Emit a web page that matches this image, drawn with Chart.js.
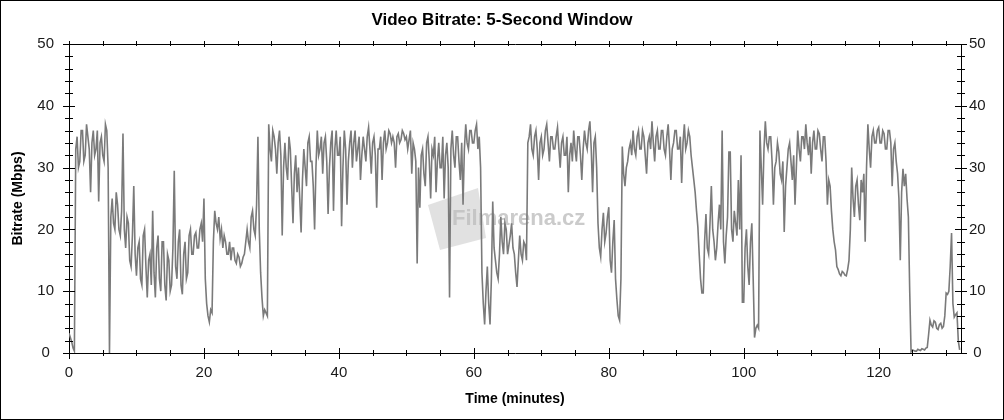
<!DOCTYPE html>
<html>
<head>
<meta charset="utf-8">
<title>Video Bitrate</title>
<script src="https://cdn.jsdelivr.net/npm/chart.js@4.4.0/dist/chart.umd.min.js"></script>
<style>
  html, body { margin: 0; padding: 0; background: #fff; }
  #wrap { width: 1004px; height: 420px; }
</style>
</head>
<body>
<div id="wrap"><canvas id="bitrateChart" width="1004" height="420"></canvas></div>
<script>
// labels
const chartTitle = "Video Bitrate: 5-Second Window";
const xTitle = "Time (minutes)";
const yTitle = "Bitrate (Mbps)";

// axis ranges / tick steps
const xMax = 132.2;
const yMax = 50;
const xLabelStep = 20;
const xMinorStep = 5;
const yLabelStep = 10;
const yMinorStep = 2;

// one sample every 0.2 minutes (Mbps), 2 minutes per row
const stepMinutes = 0.2;
const bitrate = [
  3.2, 2.5, 1.8, 0.8, 0.3, 33, 35, 30, 31, 36,
  36, 31, 32, 37, 35, 33, 26, 34, 36, 32,
  33, 36, 24.5, 34, 35, 32, 31, 37, 36, 30,
  0, 22, 25, 21, 20, 26, 24, 20, 19, 23,
  35.5, 20, 17, 22, 21, 15, 14, 19, 27, 16,
  12.5, 17, 18, 12, 11, 19, 20, 14, 9, 15,
  16, 11, 23, 13, 9, 17, 19, 12, 10, 18,
  18, 11, 8.5, 16, 15, 10, 11, 17, 29.5, 14,
  12, 18, 20, 11, 9.5, 16, 18, 12, 13, 19,
  20, 16, 16, 19, 19.5, 17, 17, 20, 21, 18,
  25, 12, 8, 6, 5, 7, 6.5, 18, 23, 21,
  20, 22, 18.5, 20, 17, 19, 18, 16, 16, 18,
  15, 17, 17, 15, 14.5, 16, 15.5, 14, 14.5, 15.5,
  16, 18, 20, 18, 17, 22, 23, 20, 19, 24,
  35, 20, 13, 9, 6, 7, 6.5, 6, 37, 33,
  31, 36, 35, 33, 29, 34, 36, 32, 19, 30,
  34, 30, 28, 35, 33, 27, 21, 29, 32, 26,
  30, 25, 19.5, 28, 33, 30, 27, 34, 35, 31,
  31, 27, 20, 30, 36, 32, 33, 35, 29, 34,
  35, 31, 22.5, 30, 34, 36, 23, 33, 36, 32,
  32, 35, 20.5, 30, 36, 33, 24, 31, 34, 36,
  30, 34, 36, 31, 33, 35, 28, 32, 35, 33,
  31, 35, 36.5, 33, 29, 34, 35, 32, 23.5, 33,
  33, 35, 28, 34, 36, 33, 34, 36, 35.5, 34,
  35, 34, 30, 35, 35.5, 34, 34.5, 36, 35.5, 34.5,
  35, 33, 34.5, 36, 29, 34, 33, 31, 14.5, 30,
  23.5, 32, 33, 29, 27, 34, 35, 31, 25, 33,
  32, 35, 26, 31, 34, 30, 30, 35, 25, 32,
  34, 30, 9, 33, 36, 32, 30, 35, 35, 31,
  28, 34, 24, 33, 37, 34, 33, 36, 36, 34,
  34, 36, 37, 33, 35, 30, 13, 8, 4.6, 10,
  14, 8, 4.6, 12, 24.5, 17, 15, 13, 12, 16,
  22, 18, 16, 21, 20, 16, 17.5, 19, 21, 17,
  16, 13, 10.7, 15, 19, 16, 15, 18, 17.5, 15,
  34, 35, 37, 33, 32, 35, 36, 33, 28, 34,
  35, 32, 33, 36, 37, 34, 31, 35, 35, 33,
  33, 35, 36.5, 33, 30, 34, 35, 32, 32, 35,
  26, 32, 34, 31, 36, 33, 31, 35, 35, 32,
  28, 33, 36, 34, 33, 36, 37.5, 33, 26, 34,
  35, 30, 21, 17, 15.6, 20, 22.7, 18, 19.4, 22,
  23.6, 15, 13, 18, 21.5, 12, 8.7, 6, 5.3, 12,
  33.4, 29, 27, 30, 31, 33, 34, 32, 36, 33,
  32, 35, 36, 33, 33, 36, 35, 32, 29, 34,
  35, 33, 37.5, 34, 31, 35, 36, 33, 33, 36,
  36, 33, 32, 35, 37, 33, 28, 33, 34, 36,
  36, 33, 33, 35, 27.5, 34, 37, 33, 34, 36,
  35, 32, 30, 28, 26, 23, 20.4, 16, 12, 9.7,
  9.7, 18, 22.5, 17, 16, 21, 27, 20, 18, 15,
  17, 21, 24, 20, 36, 18, 14.5, 19, 22, 32.5,
  32.5, 20, 18, 23, 21, 19, 28, 20, 32, 8.2,
  8.2, 17, 20, 14, 11, 18, 21, 12, 2.5, 4,
  4.5, 4, 36, 30, 24, 33, 37.5, 34, 33, 35,
  35, 31, 24, 30, 31, 34, 32.5, 29, 28, 31,
  19.6, 27, 30, 33, 34, 31, 28, 32, 24, 30,
  36, 33, 31, 35, 35, 33, 37, 34, 32, 35,
  29, 34, 36, 33, 33, 36, 35.5, 33, 31, 35,
  35, 31, 24, 28, 27, 23, 20, 18, 16.7, 14,
  13.5, 12.8, 12.5, 13.2, 13, 12.6, 12.5, 13.5, 15, 20,
  30, 25, 22, 27, 28, 24, 21.5, 28, 26, 29,
  18, 30, 37, 33, 30, 35, 36, 34, 34, 36,
  36.5, 34, 34, 36, 35.5, 33, 33, 36, 36, 34,
  27, 33, 34, 31, 29, 25, 15, 26, 29.8, 27,
  29, 25, 22, 10, 0.2, 0.5, 0.4, 0.3, 0.3, 0.6,
  0.5, 0.4, 0.7, 0.6, 0.5, 0.8, 0.9, 3, 5.3, 4.5,
  4.2, 5.2, 5, 4, 3.8, 4.6, 4.8, 4, 4.3, 6,
  9.7, 9.5, 10, 14, 19.4, 8, 5.8, 6.2, 6.5, 2,
  0.5
];

const points = bitrate.map((v, i) => ({ x: +(i * stepMinutes).toFixed(1), y: v }));

Chart.defaults.font.family = '"Liberation Sans", Arial, sans-serif';

// white background, faint watermark, tick marks on all four sides and outer frame
const framePlugin = {
  id: 'frame',
  beforeDraw(chart) {
    const ctx = chart.ctx;
    ctx.save();
    ctx.fillStyle = '#fff';
    ctx.fillRect(0, 0, chart.width, chart.height);
    ctx.restore();
  },
  beforeDatasetsDraw(chart) {
    const ctx = chart.ctx;
    ctx.save();
    ctx.fillStyle = 'rgba(200,200,200,0.55)';
    ctx.beginPath();
    ctx.moveTo(428, 205); ctx.lineTo(478, 188); ctx.lineTo(486, 238); ctx.lineTo(440, 250);
    ctx.closePath();
    ctx.fill();
    ctx.font = 'bold 22px "Liberation Sans", Arial, sans-serif';
    ctx.fillStyle = 'rgba(190,190,190,0.8)';
    ctx.textBaseline = 'middle';
    ctx.fillText('Filmarena.cz', 452, 219);
    ctx.restore();
  },
  afterDraw(chart) {
    const ctx = chart.ctx;
    const { left, right, top, bottom } = chart.chartArea;
    const xs = chart.scales.x, ys = chart.scales.y;
    ctx.save();
    ctx.strokeStyle = '#000';
    ctx.lineWidth = 1;
    ctx.beginPath();
    for (let m = 0; m <= xMax; m += xMinorStep) {
      const px = Math.round(xs.getPixelForValue(m)) + 0.5;
      const major = m % xLabelStep === 0;
      ctx.moveTo(px, bottom - (major ? 5 : 3));
      ctx.lineTo(px, bottom + (major ? 6 : 3));
      ctx.moveTo(px, top - 3);
      ctx.lineTo(px, top + (major ? 3 : 2));
    }
    for (let v = 0; v <= yMax; v += yMinorStep) {
      const py = Math.round(ys.getPixelForValue(v)) + 0.5;
      const l = v % yLabelStep === 0 ? 6 : 4;
      ctx.moveTo(left - l, py); ctx.lineTo(left + l, py);
      ctx.moveTo(right - l, py); ctx.lineTo(right + l, py);
    }
    ctx.stroke();
    ctx.strokeRect(0.5, 0.5, chart.width - 1, chart.height - 1);
    ctx.restore();
  }
};

const tickFont = { size: 15 };
const titleFont = { size: 14, weight: 'bold' };

new Chart(document.getElementById('bitrateChart'), {
  type: 'line',
  data: {
    datasets: [{
      label: 'Bitrate',
      data: points,
      borderColor: '#7a7a7a',
      borderWidth: 1.6,
      borderJoinStyle: 'miter',
      pointRadius: 0,
      tension: 0,
      xAxisID: 'x',
      yAxisID: 'y'
    }]
  },
  options: {
    responsive: false,
    animation: false,
    layout: { padding: 0 },
    plugins: {
      legend: { display: false },
      tooltip: { enabled: false },
      title: {
        display: true,
        text: chartTitle,
        color: '#000',
        font: { size: 17, weight: 'bold' },
        padding: { top: 10, bottom: 10 }
      }
    },
    scales: {
      x: {
        type: 'linear',
        position: 'bottom',
        min: 0,
        max: xMax,
        grid: { display: false, drawTicks: false },
        border: { display: true, color: '#000', width: 1 },
        ticks: {
          stepSize: xLabelStep,
          autoSkip: false,
          maxRotation: 0,
          color: '#1a1a1a',
          font: tickFont,
          padding: 11,
          callback: v => (v % xLabelStep === 0 ? v : '')
        },
        title: { display: true, text: xTitle, color: '#000', font: titleFont, padding: { top: 0, bottom: 12 } },
        afterFit: s => { s.height = 67; }
      },
      x2: {
        type: 'linear',
        position: 'top',
        min: 0,
        max: xMax,
        grid: { display: false, drawTicks: false },
        border: { display: true, color: '#000', width: 1 },
        ticks: { display: false },
        afterFit: s => { s.height = 3.6; }
      },
      y: {
        position: 'left',
        min: 0,
        max: yMax,
        grid: { display: false, drawTicks: false },
        border: { display: true, color: '#000', width: 1 },
        ticks: { stepSize: yLabelStep, color: '#1a1a1a', font: tickFont, padding: 15, crossAlign: 'center' },
        title: { display: true, text: yTitle, color: '#000', font: titleFont, padding: { top: 10, bottom: 0 } },
        afterFit: s => { s.width = 69; }
      },
      y2: {
        position: 'right',
        min: 0,
        max: yMax,
        grid: { display: false, drawTicks: false },
        border: { display: true, color: '#000', width: 1 },
        ticks: { stepSize: yLabelStep, color: '#1a1a1a', font: tickFont, padding: 8, crossAlign: 'center' },
        afterFit: s => { s.width = 43; }
      }
    }
  },
  plugins: [framePlugin]
});
</script>
</body>
</html>
